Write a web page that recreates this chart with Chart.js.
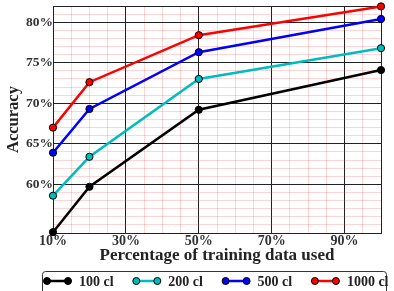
<!DOCTYPE html>
<html>
<head>
<meta charset="utf-8">
<script src="https://cdn.jsdelivr.net/npm/chart.js@4.4.1/dist/chart.umd.min.js"></script>
<style>
  html, body { margin: 0; padding: 0; background: #fff; }
  #wrap { width: 394px; height: 291px; }
</style>
</head>
<body>
<div id="wrap"><canvas id="chart"></canvas></div>
<script>
// data
const trainPct = [10, 20, 50, 100]
const seriesNames = ['100 cl', '200 cl', '500 cl', '1000 cl']
const acc100 = [54.1, 59.7, 69.2, 74.1]
const acc200 = [58.6, 63.4, 73.0, 76.8]
const acc500 = [63.9, 69.3, 76.3, 80.4]
const acc1000 = [67.0, 72.6, 78.4, 81.95]
const xMajor = [10, 30, 50, 70, 90]
const yMajor = [60, 65, 70, 75, 80]

const colors = ['#000000', '#00bdbd', '#0000ff', '#ff0000']
const allSeries = [acc100, acc200, acc500, acc1000]

const serif = '"Liberation Serif", "DejaVu Serif", serif'
const major = '#222'
const minor = 'rgba(255, 60, 60, 0.22)'

const datasets = allSeries.map((vals, i) => ({
    label: seriesNames[i],
    data: trainPct.map((x, j) => ({ x: x, y: vals[j] })),
    borderColor: colors[i],
    backgroundColor: colors[i],
    borderWidth: 2.5,
    pointRadius: 3.6,
    pointBorderColor: '#000',
    pointBorderWidth: 1,
    clip: false,
}))

// legend drawn in a box under the chart
const boxedLegend = {
    id: 'boxedLegend',
    afterDraw(chart) {
        const ctx = chart.ctx
        ctx.save()
        ctx.strokeStyle = '#333'
        ctx.lineWidth = 1
        ctx.beginPath()
        ctx.roundRect(42.5, 271.5, 344, 30, 3)
        ctx.stroke()
        ctx.font = 'bold 14px ' + serif
        ctx.textBaseline = 'middle'
        chart.data.datasets.forEach((ds, i) => {
            const x0 = 47 + i * 89.3
            const y0 = 281
            ctx.strokeStyle = ds.borderColor
            ctx.lineWidth = 2.5
            ctx.beginPath()
            ctx.moveTo(x0, y0)
            ctx.lineTo(x0 + 21, y0)
            ctx.stroke()
            ;[x0, x0 + 21].forEach(cx => {
                ctx.beginPath()
                ctx.arc(cx, y0, 3.5, 0, Math.PI * 2)
                ctx.fillStyle = ds.backgroundColor
                ctx.fill()
                ctx.lineWidth = 1
                ctx.strokeStyle = '#000'
                ctx.stroke()
            })
            ctx.fillStyle = '#222'
            ctx.fillText(ds.label, x0 + 32, y0 + 1)
        })
        ctx.restore()
    }
}

new Chart(document.getElementById('chart'), {
    type: 'line',
    data: { datasets: datasets },
    plugins: [boxedLegend],
    options: {
        responsive: true,
        maintainAspectRatio: false,
        animation: false,
        layout: { padding: { top: 6, right: 13, bottom: 25, left: 0 } },
        plugins: { legend: { display: false }, tooltip: { enabled: false } },
        scales: {
            x: {
                type: 'linear',
                min: 10,
                max: 100,
                afterFit: s => { s.height = 33; s.paddingLeft = 0; s.paddingRight = 0 },
                ticks: {
                    stepSize: 5,
                    autoSkip: false,
                    maxRotation: 0,
                    padding: 1,
                    color: '#333',
                    font: { family: serif, size: 14, weight: 'bold', lineHeight: 1.0 },
                    callback: v => xMajor.includes(v) ? v + '%' : '',
                },
                grid: {
                    drawTicks: false,
                    color: c => (xMajor.includes(c.tick.value) || c.tick.value === 100) ? major : minor,
                    lineWidth: 1,
                },
                border: { color: major, width: 1 },
                title: {
                    display: true,
                    text: 'Percentage of training data used',
                    color: '#222',
                    font: { family: serif, size: 17, weight: 'bold', lineHeight: 1.0 },
                    padding: { top: 0, bottom: 2 },
                },
            },
            y: {
                min: 54,
                max: 82,
                afterFit: s => { s.width = 53; s.paddingTop = 0; s.paddingBottom = 0 },
                ticks: {
                    stepSize: 1,
                    autoSkip: false,
                    padding: 0,
                    color: '#333',
                    font: { family: serif, size: 13.5, weight: 'bold' },
                    callback: v => yMajor.includes(v) ? v + '%' : '',
                },
                grid: {
                    drawTicks: false,
                    color: c => (yMajor.includes(c.tick.value) || c.tick.value === 82) ? major : minor,
                    lineWidth: 1,
                },
                border: { color: major, width: 1 },
                title: {
                    display: true,
                    text: 'Accuracy',
                    color: '#222',
                    font: { family: serif, size: 16.5, weight: 'bold', lineHeight: 1.0 },
                    padding: { top: 5, bottom: 0 },
                },
            },
        },
    },
})
</script>
</body>
</html>
